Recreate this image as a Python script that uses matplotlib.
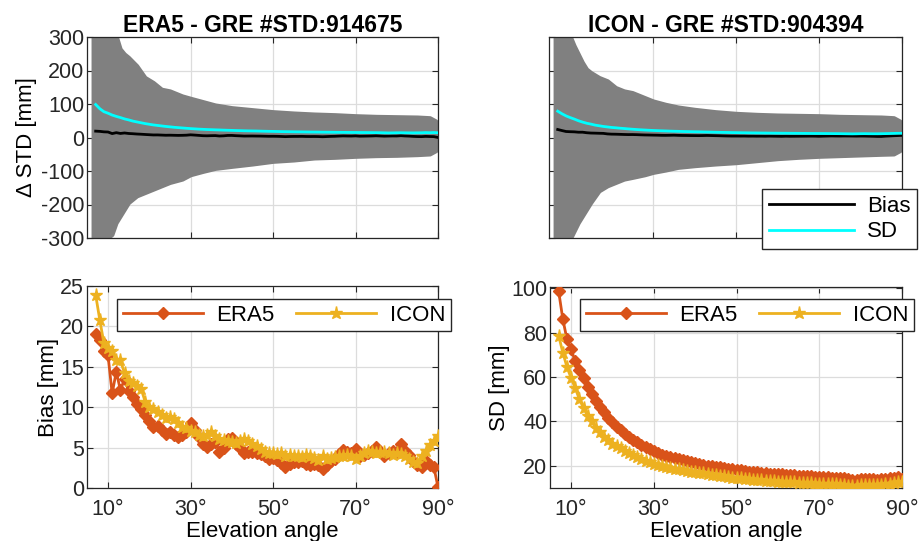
import numpy as np
import matplotlib
matplotlib.use("Agg")
import matplotlib.pyplot as plt

# ---------------- Daten ----------------
elev = list(range(7, 91))

era5_bias = [19.0, 18.3, 16.9, 16.4, 11.7, 14.4, 12.1, 13.5, 12.0, 11.3,
             10.4, 9.8, 9.0, 8.3, 7.6, 7.7, 7.2, 6.7, 6.9, 6.6,
             6.3, 6.5, 6.9, 8.0, 7.2, 6.3, 5.4, 5.1, 5.5, 5.7,
             4.5, 5.0, 6.1, 6.2, 5.4, 4.9, 4.3, 4.4, 4.5, 4.3,
             4.2, 3.9, 3.6, 3.7, 3.5, 3.1, 2.6, 3.0, 3.2, 3.2,
             3.4, 3.0, 2.9, 3.0, 2.8, 2.3, 2.8, 3.3, 3.6, 4.2,
             4.7, 4.4, 4.3, 4.8, 3.9, 4.1, 4.3, 4.6, 5.1, 4.5,
             4.0, 4.3, 4.6, 4.5, 5.4, 4.6, 4.1, 3.3, 2.8, 2.6,
             3.3, 2.9, 2.6, 0.1]
icon_bias = [23.9, 20.8, 17.9, 17.3, 16.9, 15.8, 15.8, 14.2, 13.3, 13.0,
             12.6, 12.3, 10.7, 10.0, 9.8, 9.4, 9.0, 8.7, 8.8, 8.5,
             8.0, 7.6, 7.4, 7.1, 6.9, 6.5, 6.4, 6.6, 6.9, 6.4,
             6.1, 6.0, 5.8, 5.7, 5.6, 5.8, 6.1, 5.8, 5.5, 5.2,
             4.8, 4.5, 4.3, 4.3, 4.2, 4.3, 4.0, 4.1, 3.9, 4.0,
             3.8, 4.1, 3.9, 3.7, 3.5, 3.9, 3.6, 3.7, 3.8, 3.9,
             4.0, 4.1, 4.0, 3.6, 4.0, 4.3, 4.6, 4.4, 4.3, 4.5,
             4.4, 4.3, 4.1, 4.3, 4.2, 3.9, 3.6, 3.2, 3.1, 4.0,
             4.6, 5.3, 5.8, 6.4]
era5_sd = [98.5, 86.0, 77.0, 72.5, 67.0, 63.0, 59.5, 55.5, 52.5, 49.0,
           46.5, 44.0, 41.5, 39.5, 37.5, 36.0, 34.5, 33.0, 31.8, 30.5,
           29.5, 28.5, 27.5, 26.6, 25.8, 25.0, 24.4, 23.8, 23.4, 22.9,
           22.5, 22.0, 21.6, 21.2, 20.8, 20.5, 20.1, 19.8, 19.6, 19.4,
           19.0, 18.7, 18.4, 18.2, 17.9, 17.6, 17.4, 17.2, 17.0, 16.8,
           16.7, 16.5, 16.3, 16.2, 16.1, 15.9, 15.8, 15.7, 15.5, 15.4,
           15.3, 15.2, 15.1, 15.0, 14.9, 14.8, 14.7, 14.6, 14.5, 14.3,
           14.0, 13.6, 13.8, 14.1, 14.2, 14.0, 13.9, 13.8, 14.0, 14.1,
           14.7, 14.3, 14.8, 14.2]
icon_sd = [78.5, 71.0, 64.5, 59.5, 55.0, 50.0, 46.0, 42.5, 40.0, 37.0,
           35.0, 33.0, 31.5, 30.0, 29.0, 27.8, 26.8, 25.7, 24.7, 23.8,
           23.0, 22.3, 21.6, 21.0, 20.5, 20.0, 19.6, 19.1, 18.7, 18.4,
           18.0, 17.7, 17.4, 17.1, 16.9, 16.6, 16.3, 16.0, 15.7, 15.4,
           15.2, 15.0, 14.7, 14.5, 14.3, 14.1, 13.9, 13.7, 13.6, 13.4,
           13.3, 13.1, 13.0, 12.9, 12.8, 12.7, 12.6, 12.5, 12.4, 12.3,
           12.2, 12.1, 12.0, 12.0, 11.9, 11.8, 11.7, 11.6, 11.5, 11.3,
           11.1, 10.9, 11.1, 11.4, 11.5, 11.3, 11.2, 11.2, 11.4, 11.6,
           11.9, 12.2, 12.5, 12.6]

# Einhuellende der Punktwolke (Delta STD) aus dem Bild geschaetzt
env_elev = [6.3, 8, 10, 11, 12, 13, 14, 15, 17, 19, 21, 23, 25, 28, 30,
            33, 36, 40, 45, 50, 55, 60, 65, 70, 75, 80, 85, 88, 89.5, 90.5]
era5_upper = [310, 310, 310, 310, 305, 265, 250, 240, 215, 180, 165, 145, 140, 125, 118,
              108, 98, 90, 84, 78, 74, 71, 69, 66, 64, 63, 62, 60, 50, 20]
era5_lower = [-310, -310, -300, -290, -255, -235, -215, -195, -175, -165, -155, -145, -135, -125, -112,
              -102, -93, -87, -80, -72, -68, -62, -60, -57, -55, -54, -52, -50, -40, -20]
icon_upper = [310, 310, 305, 275, 250, 225, 205, 195, 180, 170, 150, 140, 135, 120, 110,
              100, 92, 85, 78, 73, 70, 68, 67, 66, 64, 63, 62, 60, 50, 30]
icon_lower = [-310, -310, -305, -280, -255, -235, -215, -195, -160, -145, -135, -125, -120, -112, -105,
              -98, -90, -85, -80, -76, -70, -64, -60, -57, -55, -53, -51, -50, -40, -25]

n_std = {"ERA5": 914675, "ICON": 904394}

# ---------------- Stil ----------------
plt.rcParams["font.family"] = ["Liberation Sans", "DejaVu Sans"]
plt.rcParams["axes.unicode_minus"] = False
c_era5 = "#D95319"
c_icon = "#EDB120"
c_axis = "#262626"
c_grid = "#DCDCDC"
fs_tick = 15.5
fs_lab = 16

fig = plt.figure(figsize=(9.2, 5.41), dpi=100)
W, H = 920, 541


def add_ax(x0, y0, x1, y1):
    return fig.add_axes([x0 / W, 1 - y1 / H, (x1 - x0) / W, (y1 - y0) / H])


def style(ax):
    ax.set_xlim(4.9, 90)
    ax.set_xticks([10, 30, 50, 70, 90])
    ax.set_xticklabels(["10°", "30°", "50°", "70°", "90°"])
    ax.grid(True, color=c_grid, linewidth=0.9)
    ax.set_axisbelow(True)
    ax.tick_params(direction="in", top=True, right=True, length=4,
                   colors=c_axis, labelcolor=c_axis, labelsize=fs_tick, pad=2)
    ax.tick_params(axis="x", pad=8)
    for s in ax.spines.values():
        s.set_color(c_axis)
        s.set_linewidth(0.9)


ax_tl = add_ax(87, 37, 438, 238)
ax_tr = add_ax(549, 37, 902, 238)
ax_bl = add_ax(87, 286, 438, 488)
ax_br = add_ax(550, 287, 902, 488)

# ---------------- obere Reihe ----------------
oben = [(ax_tl, "ERA5", era5_upper, era5_lower, era5_bias, era5_sd),
        (ax_tr, "ICON", icon_upper, icon_lower, icon_bias, icon_sd)]
for ax, name, up, lo, b, sd in oben:
    ax.fill_between(env_elev, lo, up, color="#808080", edgecolor="#808080",
                    linewidth=2.5, zorder=2)
    ax.plot(elev, b, color="black", linewidth=2, label="Bias", zorder=3)
    ax.plot(elev, sd, color="#00FFFF", linewidth=2, label="SD", zorder=3)
    style(ax)
    ax.set_ylim(-300, 300)
    ax.set_yticks(range(-300, 301, 100))
    ax.tick_params(labelbottom=False)
    ax.set_title(f"{name} - GRE #STD:{n_std[name]}", fontweight="bold",
                 fontsize=16.5, pad=3)

ax_tl.set_ylabel("Δ STD [mm]", fontsize=fs_lab, labelpad=3)
ax_tr.tick_params(labelleft=False)
ax_tr.legend(loc="lower right", bbox_to_anchor=(917 / W, 1 - 249 / H),
             bbox_transform=fig.transFigure, fontsize=fs_lab, frameon=True,
             fancybox=False, edgecolor=c_axis, handlelength=3.8,
             borderaxespad=0, labelspacing=0.2,
             handletextpad=0.6, borderpad=0.3, framealpha=1)

# ---------------- untere Reihe ----------------
unten = [(ax_bl, era5_bias, icon_bias, "Bias [mm]"),
         (ax_br, era5_sd, icon_sd, "SD [mm]")]
for ax, e, i, lab in unten:
    ax.plot(elev, e, color=c_era5, linewidth=2, marker="D", markersize=6.5,
            label="ERA5", zorder=3)
    ax.plot(elev, i, color=c_icon, linewidth=2, marker="*", markersize=9.5,
            label="ICON", zorder=3)
    style(ax)
    ax.set_ylabel(lab, fontsize=fs_lab, labelpad=1)
    ax.set_xlabel("Elevation angle", fontsize=fs_lab, labelpad=1)

ax_bl.set_ylim(0, 25)
ax_bl.set_yticks(range(0, 26, 5))
ax_br.set_ylim(10, 100.5)
ax_br.set_yticks(range(20, 101, 20))

for ax, x0 in [(ax_bl, 117), (ax_br, 580)]:
    ax.legend(loc="upper left", bbox_to_anchor=(x0 / W, 1 - 299 / H),
              bbox_transform=fig.transFigure, ncol=2, fontsize=fs_lab,
              fancybox=False, edgecolor=c_axis, handlelength=3.6,
              borderaxespad=0, columnspacing=1.0, handletextpad=0.6,
              borderpad=0.25, framealpha=1)

fig.savefig("out.png", dpi=100)
